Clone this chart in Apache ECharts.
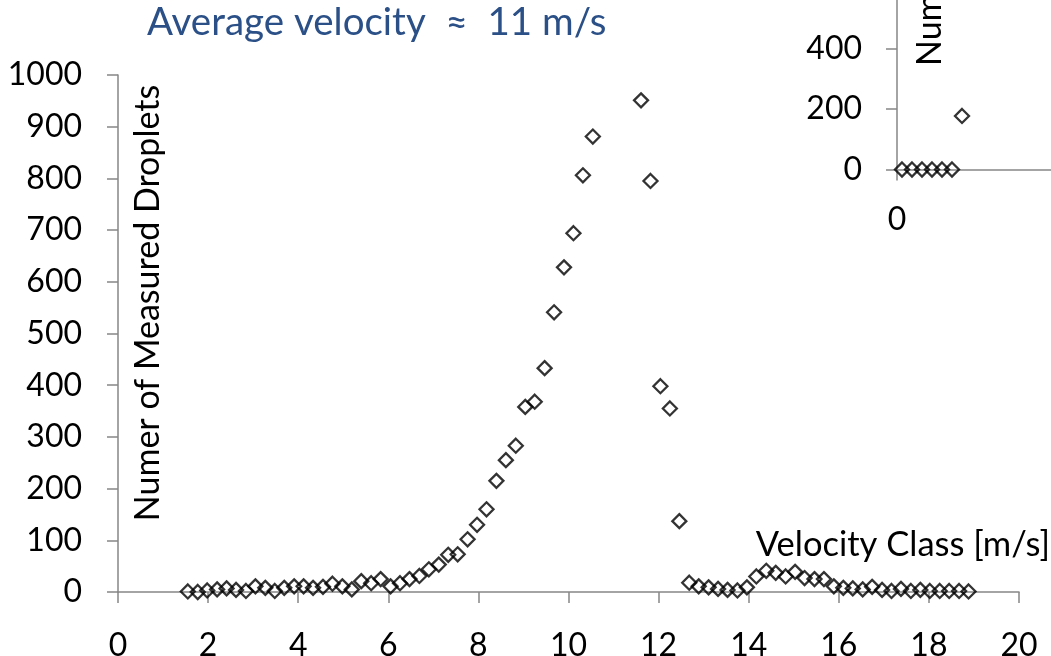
<!DOCTYPE html>
<html>
<head>
<meta charset="utf-8">
<script src="https://cdn.jsdelivr.net/npm/echarts@6/dist/echarts.min.js"></script>
<style>
  html, body { margin: 0; padding: 0; background: #fff; }
  #chart { width: 1051px; height: 656px; }
</style>
</head>
<body>
<div id="chart"></div>
<script>
// velocity classes [m/s] and droplet counts
const velocity = [
  1.55, 1.77, 1.98, 2.20, 2.41, 2.62, 2.84, 3.05, 3.27, 3.48,
  3.69, 3.91, 4.12, 4.33, 4.55, 4.76, 4.98, 5.19, 5.40, 5.62,
  5.83, 6.05, 6.26, 6.47, 6.69, 6.90, 7.12, 7.33, 7.54, 7.76,
  7.97, 8.18, 8.40, 8.61, 8.83, 9.04, 9.25, 9.47, 9.68, 9.90,
  10.11, 10.32, 10.54, 11.61, 11.82, 12.04, 12.25, 12.46, 12.68, 12.89,
  13.11, 13.32, 13.53, 13.75, 13.96, 14.17, 14.39, 14.60, 14.82, 15.03,
  15.24, 15.46, 15.67, 15.89, 16.10, 16.31, 16.53, 16.74, 16.96, 17.17,
  17.38, 17.60, 17.81, 18.02, 18.24, 18.45, 18.67, 18.88
];
const droplets = [
  1, 0, 3, 5, 7, 4, 2, 11, 8, 2,
  8, 11, 11, 8, 10, 16, 11, 5, 21, 17,
  25, 11, 17, 25, 31, 44, 53, 72, 73, 102,
  130, 160, 215, 255, 283, 358, 368, 433, 541, 628,
  694, 806, 881, 951, 795, 398, 355, 137, 18, 11,
  9, 6, 4, 3, 9, 30, 41, 37, 30, 39,
  27, 25, 25, 11, 8, 7, 5, 10, 4, 2,
  6, 2, 4, 2, 2, 2, 2, 1
];
const xTicks = [0, 20, 2];
const yTicks = [0, 1000, 100];

// the small inset chart in the corner, mostly cut off
const insetX = [0.1, 0.3, 0.5, 0.7, 0.9, 1.1, 1.3];
const insetY = [0, 0, 0, 0, 0, 0, 177];

const font = 'Lato';
const axisGray = '#868686';

const chart = echarts.init(document.getElementById('chart'));

const axisCommon = {
  axisLine: { show: true, onZero: false, lineStyle: { color: axisGray, width: 1.5 } },
  axisTick: { show: true, length: 11, lineStyle: { color: axisGray, width: 1.5 } },
  splitLine: { show: false },
  axisLabel: { color: '#000', fontFamily: font, fontSize: 32, formatter: v => String(v) }
};

const markerStyle = {
  color: 'rgba(0,0,0,0)',
  borderColor: '#000',
  borderWidth: 2.3
};

const option = {
  animation: false,
  backgroundColor: '#fff',
  grid: [
    { left: 118, right: 32, top: 75, bottom: 64, outerBoundsMode: 'none' },
    { left: 897, top: -133, width: 250, height: 302.5, outerBoundsMode: 'none' }
  ],
  xAxis: [
    Object.assign({}, axisCommon, {
      type: 'value', gridIndex: 0,
      min: xTicks[0], max: xTicks[1], interval: xTicks[2],
      axisLabel: Object.assign({}, axisCommon.axisLabel, { margin: 38 })
    }),
    Object.assign({}, axisCommon, {
      type: 'value', gridIndex: 1,
      min: 0, max: 5, interval: 5,
      axisLabel: Object.assign({}, axisCommon.axisLabel, { margin: 34 })
    })
  ],
  yAxis: [
    Object.assign({}, axisCommon, {
      type: 'value', gridIndex: 0,
      min: yTicks[0], max: yTicks[1], interval: yTicks[2],
      axisLabel: Object.assign({}, axisCommon.axisLabel, { margin: 36 })
    }),
    Object.assign({}, axisCommon, {
      type: 'value', gridIndex: 1,
      min: 0, max: 1000, interval: 200,
      axisLabel: Object.assign({}, axisCommon.axisLabel, { margin: 35 })
    })
  ],
  series: [
    {
      type: 'scatter',
      xAxisIndex: 0, yAxisIndex: 0,
      symbol: 'diamond',
      symbolSize: 14,
      itemStyle: markerStyle,
      data: velocity.map((v, i) => [v, droplets[i]])
    },
    {
      type: 'scatter',
      xAxisIndex: 1, yAxisIndex: 1,
      symbol: 'diamond',
      symbolSize: 14,
      itemStyle: markerStyle,
      data: insetX.map((v, i) => [v, insetY[i]])
    }
  ],
  graphic: [
    {
      type: 'text', left: 147, top: 3,
      style: { text: 'Average velocity  \u2248  11 m/s', fill: '#2B5087', font: '38.5px ' + font }
    },
    {
      type: 'text', x: 148, y: 303, rotation: Math.PI / 2,
      style: {
        text: 'Numer of Measured Droplets', fill: '#000', font: '34px ' + font,
        textAlign: 'center', textVerticalAlign: 'middle'
      }
    },
    {
      type: 'text', x: 1050, y: 545,
      style: {
        text: 'Velocity Class [m/s]', fill: '#000', font: '34.5px ' + font,
        textAlign: 'right', textVerticalAlign: 'middle'
      }
    },
    {
      type: 'text', x: 930, y: 66, rotation: Math.PI / 2,
      style: {
        text: 'Numer of Measured Droplets', fill: '#000', font: '34px ' + font,
        textAlign: 'left', textVerticalAlign: 'middle'
      }
    }
  ]
};

chart.setOption(option);
</script>
</body>
</html>
